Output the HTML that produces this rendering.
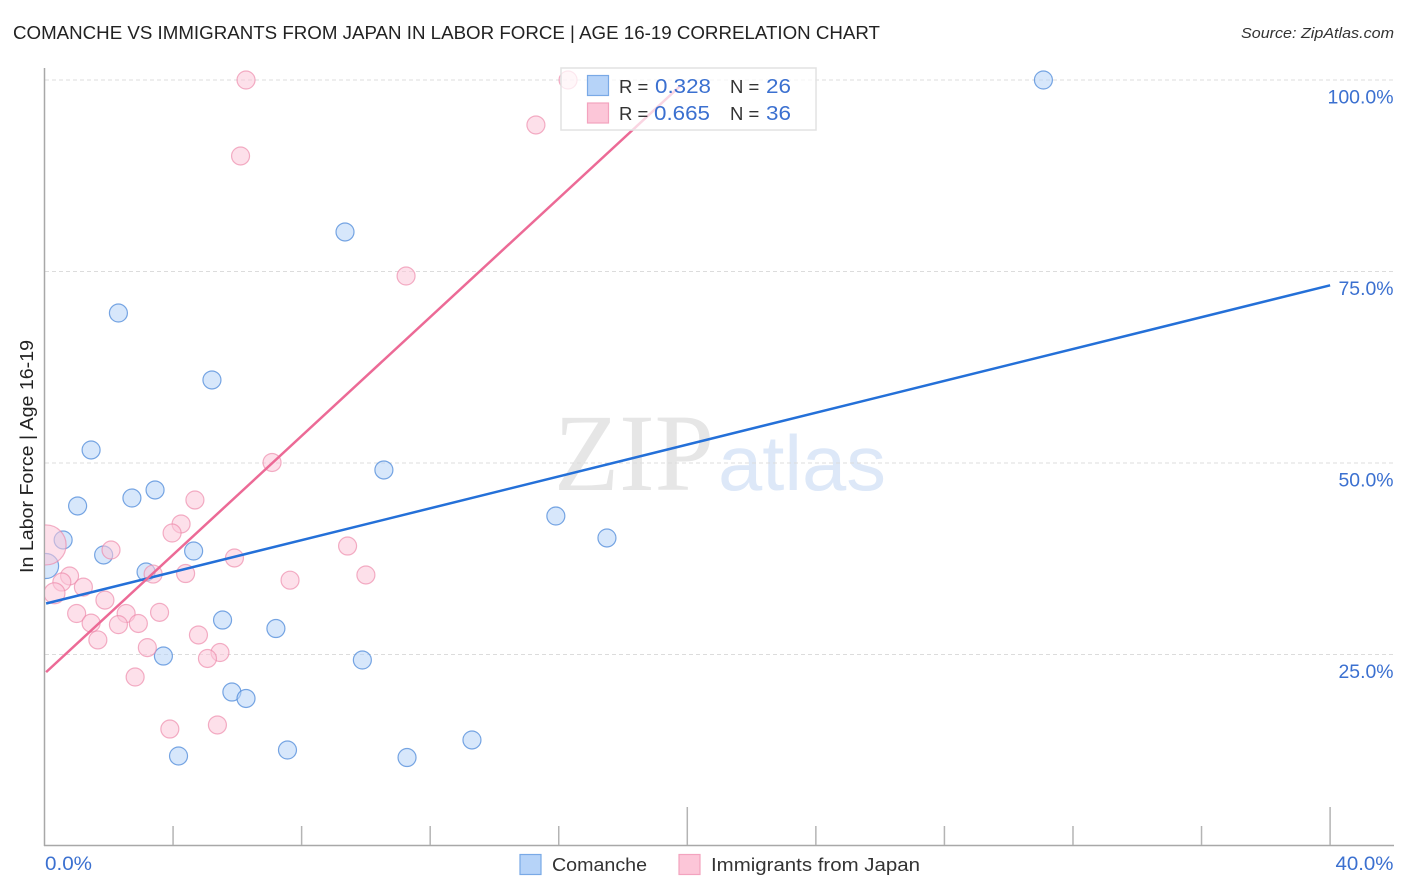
<!DOCTYPE html>
<html lang="en">
<head>
<meta charset="utf-8">
<title>Comanche vs Immigrants from Japan in Labor Force | Age 16-19 Correlation Chart</title>
<style>
html,body{margin:0;padding:0;background:#fff;width:1406px;height:892px;overflow:hidden}
svg{display:block}
text{font-family:"Liberation Sans",sans-serif}
</style>
</head>
<body>
<svg id="chart" xmlns="http://www.w3.org/2000/svg" width="1406" height="892" viewBox="0 0 1406 892">
  <defs>
    <clipPath id="plot-clip"><rect x="45" y="60" width="1349" height="786"/></clipPath>
  </defs>
  <rect width="1406" height="892" fill="#fff"/>
  <text x="13" y="39" font-size="18.5" fill="#222" textLength="867" lengthAdjust="spacingAndGlyphs">COMANCHE VS IMMIGRANTS FROM JAPAN IN LABOR FORCE | AGE 16-19 CORRELATION CHART</text>
  <text x="1394" y="38" font-size="15" font-style="italic" fill="#333" text-anchor="end" textLength="153" lengthAdjust="spacingAndGlyphs">Source: ZipAtlas.com</text>
  <text transform="translate(33,456.5) rotate(-90)" font-size="18" fill="#222" text-anchor="middle" textLength="233" lengthAdjust="spacingAndGlyphs">In Labor Force | Age 16-19</text>

  <g>
    <text x="554" y="490" style="font-family:'Liberation Serif',serif" font-size="110" fill="#e6e6e6" textLength="160" lengthAdjust="spacingAndGlyphs">ZIP</text>
    <text x="718" y="490" font-size="78" fill="#dde8f8" textLength="168" lengthAdjust="spacingAndGlyphs">atlas</text>
  </g>

  <g id="grid"></g>
  <g id="axes"></g>
  <g id="points" clip-path="url(#plot-clip)"></g>
  <g id="lines"></g>
  <g id="labels"></g>

  <g>
    <rect x="561" y="68" width="255" height="62" fill="#fff" fill-opacity="0.72" stroke="#e2e2e2" stroke-width="1.5"/>
    <rect x="587.5" y="75.5" width="21" height="20" fill="#b6d3f8" stroke="#79a9e6" stroke-width="1.2"/>
    <rect x="587.5" y="103" width="21" height="20" fill="#fcc6d8" stroke="#f3a3bf" stroke-width="1.2"/>
    <text x="619" y="93" font-size="18.5" fill="#333">R =</text>
    <text x="655" y="93" font-size="20" fill="#3b70d0" textLength="56" lengthAdjust="spacingAndGlyphs">0.328</text>
    <text x="730" y="93" font-size="18.5" fill="#333">N =</text>
    <text x="766" y="93" font-size="20" fill="#3b70d0" textLength="25" lengthAdjust="spacingAndGlyphs">26</text>
    <text x="619" y="120" font-size="18.5" fill="#333">R =</text>
    <text x="654" y="120" font-size="20" fill="#3b70d0" textLength="56" lengthAdjust="spacingAndGlyphs">0.665</text>
    <text x="730" y="120" font-size="18.5" fill="#333">N =</text>
    <text x="766" y="120" font-size="20" fill="#3b70d0" textLength="25" lengthAdjust="spacingAndGlyphs">36</text>
  </g>

  <g>
    <g>
      <rect x="520" y="854.5" width="21" height="20" fill="#b6d3f8" stroke="#79a9e6" stroke-width="1.2"/>
      <text x="552" y="871" font-size="18.5" fill="#333" textLength="95" lengthAdjust="spacingAndGlyphs">Comanche</text>
    </g>
    <g>
      <rect x="679" y="854.5" width="21" height="20" fill="#fcc6d8" stroke="#f3a3bf" stroke-width="1.2"/>
      <text x="711" y="871" font-size="18.5" fill="#333" textLength="209" lengthAdjust="spacingAndGlyphs">Immigrants from Japan</text>
    </g>
  </g>
</svg>

<script>
var yGridValues = [100, 75, 50, 25];
var yTickLabels = ["100.0%", "75.0%", "50.0%", "25.0%"];
var xTickValues = [4, 8, 12, 16, 20, 24, 28, 32, 36, 40];
var xTickTall = [20, 40];
var xEndLabels = ["0.0%", "40.0%"];

var comancheX = [31.08, 9.35, 2.30, 5.21, 1.45, 10.56, 3.44, 2.72, 1.03, 15.91, 0.58, 17.50, 4.64, 1.84, 0.05, 3.16, 5.54, 7.20, 3.70, 9.89, 5.83, 6.27, 7.56, 13.30, 4.17, 11.28];
var comancheY = [100, 80.16, 69.58, 60.84, 51.70, 49.09, 46.48, 45.43, 44.39, 43.08, 39.95, 40.21, 38.51, 37.99, 36.55, 35.77, 29.50, 28.39, 24.80, 24.28, 20.10, 19.26, 12.53, 13.84, 11.75, 11.55];
var comancheSize = [9, 9, 9, 9, 9, 9, 9, 9, 9, 9, 9, 9, 9, 9, 12.5, 9, 9, 9, 9, 9, 9, 9, 9, 9, 9, 9];

var japanX = [6.27, 16.29, 15.29, 6.10, 11.25, 7.08, 4.68, 4.25, 3.97, 9.43, 0.05, 2.07, 5.91, 4.39, 10.0, 3.38, 0.78, 0.54, 7.64, 1.21, 0.31, 1.88, 1.0, 3.58, 2.54, 1.45, 2.92, 2.30, 4.79, 1.66, 3.2, 5.46, 5.07, 2.82, 3.9, 5.38];
var japanY = [100, 100, 94.13, 90.08, 74.41, 50.07, 45.17, 42.04, 40.86, 39.16, 39.3, 38.64, 37.60, 35.57, 35.38, 35.5, 35.25, 34.46, 34.7, 33.8, 33.0, 32.1, 30.35, 30.5, 30.35, 29.1, 29.05, 28.9, 27.55, 26.9, 25.9, 25.26, 24.48, 22.06, 15.27, 15.8];
var japanSize = [9, 9, 9, 9, 9, 9, 9, 9, 9, 9, 20, 9, 9, 9, 9, 9, 9, 9, 9, 9, 10.5, 9, 9, 9, 9, 9, 9, 9, 9, 9, 9, 9, 9, 9, 9, 9];

var comancheTrendX = [0.05, 40];
var comancheTrendY = [31.66, 73.2];
var japanTrendX = [0.05, 19.8];
var japanTrendY = [22.7, 99.3];

var NS = "http://www.w3.org/2000/svg";
function xScale(v) { return 44.5 + v * 32.14; }
function yScale(v) { return 846 - v * 7.66; }
function make(tag, attrs, parent) {
  var el = document.createElementNS(NS, tag);
  for (var k in attrs) el.setAttribute(k, attrs[k]);
  parent.appendChild(el);
  return el;
}

var grid = document.getElementById("grid");
var axes = document.getElementById("axes");
var points = document.getElementById("points");
var lines = document.getElementById("lines");
var labels = document.getElementById("labels");












yGridValues.forEach(function (v, i) {
  var g = make("line", {x1: 45, x2: 1393, y1: yScale(v), y2: yScale(v), stroke: "#dcdcdc", "stroke-width": 1, "stroke-dasharray": "4 3"}, grid);
  
  
  var t = make("text", {x: 1393.5, y: yScale(v) + 23.5, "font-size": 19.5, fill: "#3b70d0", "text-anchor": "end", textLength: 11 * yTickLabels[i].length, lengthAdjust: "spacingAndGlyphs"}, labels);
  
  
  t.textContent = yTickLabels[i];
});

var yAxis = make("line", {x1: 44.5, x2: 44.5, y1: 68, y2: 846, stroke: "#a8a8a8", "stroke-width": 1.5}, axes);


var xAxis = make("line", {x1: 44, x2: 1394, y1: 845.5, y2: 845.5, stroke: "#a8a8a8", "stroke-width": 1.5}, axes);



xTickValues.forEach(function (v) {
  var top = xTickTall.indexOf(v) >= 0 ? 807 : 826;
  var tick = make("line", {x1: xScale(v), x2: xScale(v), y1: top, y2: 845, stroke: "#b4b4b4", "stroke-width": 1.5}, axes);
  
  
});

var xLeft = make("text", {x: 45, y: 870, "font-size": 19.5, fill: "#3b70d0", textLength: 47, lengthAdjust: "spacingAndGlyphs"}, labels);


xLeft.textContent = xEndLabels[0];
var xRight = make("text", {x: 1393.5, y: 870, "font-size": 19.5, fill: "#3b70d0", "text-anchor": "end", textLength: 58, lengthAdjust: "spacingAndGlyphs"}, labels);


xRight.textContent = xEndLabels[1];

comancheX.forEach(function (x, i) {
  var c = make("circle", {cx: xScale(x), cy: yScale(comancheY[i]), r: comancheSize[i], fill: "#b6d3f8", "fill-opacity": 0.55, stroke: "#4d8ad9", "stroke-opacity": 0.75, "stroke-width": 1.2}, points);
  
  
});
japanX.forEach(function (x, i) {
  var c = make("circle", {cx: xScale(x), cy: yScale(japanY[i]), r: japanSize[i], fill: "#fcc6d8", "fill-opacity": 0.55, stroke: "#ec86a8", "stroke-opacity": 0.65, "stroke-width": 1.2}, points);
  
  
});

var trendBlue = make("line", {x1: xScale(comancheTrendX[0]), y1: yScale(comancheTrendY[0]), x2: xScale(comancheTrendX[1]), y2: yScale(comancheTrendY[1]), stroke: "#2470d8", "stroke-width": 2.5}, lines);


var trendPink = make("line", {x1: xScale(japanTrendX[0]), y1: yScale(japanTrendY[0]), x2: xScale(japanTrendX[1]), y2: yScale(japanTrendY[1]), stroke: "#ec6a96", "stroke-width": 2.5}, lines);


</script>
</body>
</html>
